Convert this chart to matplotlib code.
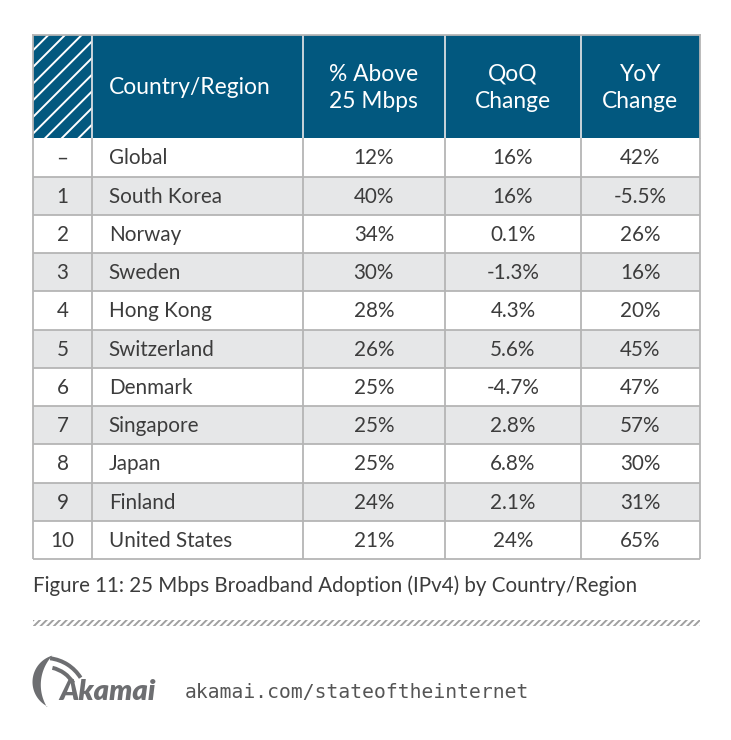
import matplotlib
matplotlib.use("Agg")
import numpy as np
import matplotlib.pyplot as plt
from matplotlib.patches import Rectangle, Wedge, Polygon

# ---------------- data ----------------
ranks = ["–", "1", "2", "3", "4", "5", "6", "7", "8", "9", "10"]
countries = ["Global", "South Korea", "Norway", "Sweden", "Hong Kong", "Switzerland",
             "Denmark", "Singapore", "Japan", "Finland", "United States"]
pct_above_25 = ["12%", "40%", "34%", "30%", "28%", "26%", "25%", "25%", "25%", "24%", "21%"]
qoq_change = ["16%", "16%", "0.1%", "-1.3%", "4.3%", "5.6%", "-4.7%", "2.8%", "6.8%", "2.1%", "24%"]
yoy_change = ["42%", "-5.5%", "26%", "16%", "20%", "45%", "47%", "57%", "30%", "31%", "65%"]
headers = ["", "Country/Region", "% Above\n25 Mbps", "QoQ\nChange", "YoY\nChange"]
caption = "Figure 11: 25 Mbps Broadband Adoption (IPv4) by Country/Region"
url = "akamai.com/stateoftheinternet"

# ---------------- style ----------------
W, H = 731, 740
BLUE = "#02587f"
GREY_ROW = "#e6e7e8"
GRID = "#b5b5b5"
TXT = "#3c3c3c"
FONT = "Lato"

col_edges = [33.3, 91.7, 302.7, 445.0, 581.0, 699.5]
top, head_bot, bottom = 35.0, 138.3, 559.0
n = len(countries)
row_h = (bottom - head_bot) / n

fig = plt.figure(figsize=(W / 100, H / 100), dpi=100)
ax = fig.add_axes([0, 0, 1, 1])
ax.set_xlim(0, W)
ax.set_ylim(H, 0)
ax.axis("off")

# header
ax.add_patch(Rectangle((col_edges[0], top), col_edges[-1] - col_edges[0], head_bot - top,
                       facecolor=BLUE, edgecolor="none", zorder=1))
plt.rcParams["hatch.linewidth"] = 1.4
plt.rcParams["hatch.color"] = "white"
ax.add_patch(Rectangle((col_edges[0], top), col_edges[1] - col_edges[0], head_bot - top,
                       facecolor="none", edgecolor="white", hatch="//", lw=0, zorder=2))
for j, h in enumerate(headers):
    if not h:
        continue
    if j == 1:
        ax.text(col_edges[1] + 17, (top + head_bot) / 2 + 1, h, color="white", fontsize=16.4,
                family=FONT, ha="left", va="center", zorder=3)
    else:
        ax.text((col_edges[j] + col_edges[j + 1]) / 2, (top + head_bot) / 2 + 1.5, h,
                color="white", fontsize=16.4, family=FONT, ha="center", va="center",
                linespacing=1.38, zorder=3)

# body rows
cols = [ranks, countries, pct_above_25, qoq_change, yoy_change]
for i in range(n):
    y0 = head_bot + i * row_h
    fc = GREY_ROW if i % 2 == 1 else "white"
    ax.add_patch(Rectangle((col_edges[0], y0), col_edges[-1] - col_edges[0], row_h,
                           facecolor=fc, edgecolor="none", zorder=1))
    yc = y0 + row_h / 2 + 1
    for j, col in enumerate(cols):
        if j == 1:
            ax.text(col_edges[1] + 17, yc, col[i], color=TXT, fontsize=14.9, family=FONT,
                    ha="left", va="center", zorder=3)
        else:
            ax.text((col_edges[j] + col_edges[j + 1]) / 2, yc, col[i], color=TXT, fontsize=14.9,
                    family=FONT, ha="center", va="center", zorder=3)

# grid lines
for i in range(1, n + 1):
    y = head_bot + i * row_h
    ax.plot([col_edges[0], col_edges[-1]], [y, y], color=GRID, lw=1.3, zorder=2,
            solid_capstyle="butt")
for j, x in enumerate(col_edges):
    ax.plot([x, x], [head_bot, bottom], color=GRID, lw=1.3, zorder=2, solid_capstyle="butt")
    if 0 < j < len(col_edges) - 1:
        ax.plot([x, x], [top, head_bot], color="#d8dde2", lw=1.3, zorder=2, solid_capstyle="butt")
ax.plot([col_edges[0], col_edges[-1]], [top, top], color=GRID, lw=1.3, zorder=2)
ax.plot([col_edges[0], col_edges[0]], [top, head_bot], color=GRID, lw=1.3, zorder=2)
ax.plot([col_edges[-1], col_edges[-1]], [top, head_bot], color=GRID, lw=1.3, zorder=2)

# caption
ax.text(33, 586, caption, color=TXT, fontsize=14.8, family=FONT, ha="left", va="center")

# hatched divider
ax.add_patch(Rectangle((33, 620), 667, 5.5, facecolor="none", edgecolor="#a0a0a0",
                       hatch="/////", lw=0, zorder=2))

# logo
LOGO = "#6d6e71"
def arc_pts(cx, cy, r, a0, a1, num=60):
    t = np.radians(np.linspace(a0, a1, num))
    return np.column_stack([cx + r * np.cos(t), cy - r * np.sin(t)])

crescent = np.vstack([arc_pts(60, 682, 27.5, 104.5, 242.5),
                      arc_pts(83.6, 684.9, 42.8, 211.1, 135.7)])
ax.add_patch(Polygon(crescent, closed=True, facecolor=LOGO, edgecolor="none"))
ax.add_patch(Wedge((45, 700), 44, -83, -32, width=4, facecolor=LOGO, edgecolor="none"))
ax.add_patch(Wedge((45, 700), 35, -77, -31, width=4, facecolor=LOGO, edgecolor="none"))
ax.text(59, 692, "Akamai", color=LOGO, fontsize=21, family=FONT, weight="heavy",
        style="italic", ha="left", va="center")
ax.text(185, 693, url, color="#555555", fontsize=14.1, family="DejaVu Sans Mono",
        ha="left", va="center")

fig.savefig("out.png", dpi=100, facecolor="white")
